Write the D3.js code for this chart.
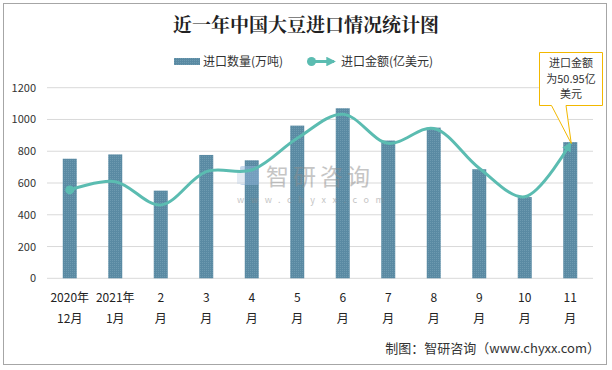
<!DOCTYPE html>
<html><head><meta charset="utf-8">
<script src="https://cdn.jsdelivr.net/npm/d3@7"></script>
<style>body{margin:0;background:#fff}svg{display:block}</style>
</head><body>
<svg id="c" width="612" height="370"></svg>
<script>
const categories = ["2020年|12月","2021年|1月","2|月","3|月","4|月","5|月","6|月","7|月","8|月","9|月","10|月","11|月"];
const quantity = [752.8, 780, 552, 776.6, 743, 961.3, 1070.6, 867.4, 948.6, 686.7, 511.4, 857.4];
const amount = [33.4, 36.5, 27.7, 40.3, 40.9, 52.9, 62.0, 51.0, 56.6, 41.6, 30.8, 50.95];
const yTicks = [0, 200, 400, 600, 800, 1000, 1200];

const svg = d3.select("#c");
const font = "'Microsoft YaHei','Noto Sans CJK SC',sans-serif";
const m = {l:47, r:593, t:87.7, b:278.3};

svg.append("rect").attr("x",3.5).attr("y",3.5).attr("width",603).attr("height",361)
  .attr("fill","#fff").attr("stroke","#a6a6a6").attr("stroke-width",1);

const defs = svg.append("defs");
const pat = defs.append("pattern").attr("id","dots").attr("width",2).attr("height",2).attr("patternUnits","userSpaceOnUse");
pat.append("rect").attr("width",2).attr("height",2).attr("fill","#5a8aa3");
pat.append("rect").attr("width",1).attr("height",1).attr("fill","#6d9ab0");
defs.append("marker").attr("id","arrow").attr("viewBox","0 0 10 10").attr("refX",8).attr("refY",5)
  .attr("markerWidth",3.2).attr("markerHeight",3.2).attr("orient","auto")
  .append("path").attr("d","M0,0L10,5L0,10z").attr("fill","#5bbcb1");

svg.append("text").attr("x",306).attr("y",32).attr("text-anchor","middle")
  .attr("font-family","'Noto Serif CJK SC','Noto Sans CJK SC',serif").attr("font-weight","bold")
  .attr("font-size",19).attr("fill","#222").text("近一年中国大豆进口情况统计图");

const x = d3.scaleBand().domain(categories).range([m.l, m.r]);
const y = d3.scaleLinear().domain([0,1200]).range([m.b, m.t]);
const y2 = d3.scaleLinear().domain([0,72]).range([m.b, m.t]);

// grid
svg.append("g").selectAll("line").data(yTicks).join("line")
  .attr("x1",m.l).attr("x2",m.r).attr("y1",d=>y(d)).attr("y2",d=>y(d))
  .attr("stroke","#d9d9d9").attr("stroke-width",1);

// y axis labels
const ya = svg.append("g").attr("transform",`translate(${m.l-8},0)`)
  .call(d3.axisLeft(y).tickValues(yTicks).tickFormat(d3.format("d")).tickSize(0).tickPadding(3));
ya.select(".domain").remove();
ya.selectAll("text").attr("font-family",font).attr("font-size",11).attr("fill","#333");

// bars
const bw = 14;
svg.append("g").selectAll("rect").data(quantity).join("rect")
  .attr("x",(d,i)=>x(categories[i])+x.bandwidth()/2-bw/2)
  .attr("y",d=>y(d)).attr("width",bw).attr("height",d=>m.b-y(d))
  .attr("fill","url(#dots)");

// watermark
const wm = svg.append("g").attr("opacity",0.5);
wm.append("rect").attr("x",240).attr("y",166).attr("width",19).attr("height",19).attr("rx",2).attr("fill","#8fb3d9");
wm.append("rect").attr("x",237).attr("y",172).attr("width",8).attr("height",12).attr("fill","#c9d7e8");
wm.append("text").attr("x",266).attr("y",185).attr("font-family",font).attr("font-size",23).attr("fill","#8c8c8c").attr("letter-spacing",4).text("智研咨询");
wm.append("text").attr("x",237).attr("y",203).attr("font-family",font).attr("font-size",9).attr("fill","#8c8c8c").attr("letter-spacing",6.6).text("www.chyxx.com");

// line
const pts = amount.map((d,i)=>[x(categories[i])+x.bandwidth()/2, y2(d)]);
const line = d3.line().curve(d3.curveCatmullRom.alpha(0.5));
svg.append("path").attr("d",line(pts)).attr("fill","none").attr("stroke","#5bbcb1")
  .attr("stroke-width",3).attr("marker-end","url(#arrow)");
svg.append("circle").attr("cx",pts[0][0]).attr("cy",pts[0][1]).attr("r",4.5).attr("fill","#5bbcb1");

// x labels
const xl = svg.append("g");
categories.forEach((c,i)=>{
  const parts = c.split("|");
  const t = xl.append("text").attr("x",x(c)+x.bandwidth()/2).attr("text-anchor","middle")
    .attr("font-family",font).attr("font-size",12).attr("fill","#222");
  t.append("tspan").attr("x",x(c)+x.bandwidth()/2).attr("y",302).text(parts[0]);
  t.append("tspan").attr("x",x(c)+x.bandwidth()/2).attr("y",323).text(parts[1]);
});

// legend
svg.append("rect").attr("x",174).attr("y",58).attr("width",26).attr("height",7).attr("fill","url(#dots)");
svg.append("text").attr("x",203).attr("y",65.5).attr("font-family",font).attr("font-size",12).attr("fill","#333").text("进口数量(万吨)");
svg.append("line").attr("x1",311).attr("x2",334).attr("y1",61.5).attr("y2",61.5).attr("stroke","#5bbcb1").attr("stroke-width",3).attr("marker-end","url(#arrow)");
svg.append("circle").attr("cx",311.5).attr("cy",61.5).attr("r",4.5).attr("fill","#5bbcb1");
svg.append("text").attr("x",341).attr("y",65.5).attr("font-family",font).attr("font-size",12).attr("fill","#333").text("进口金额(亿美元)");

// callout
const last = pts[pts.length-1];
svg.append("path").attr("d",`M539.5,52.5H602.5V105.5H566L${last[0]+1},${last[1]}L551.5,105.5H539.5Z`)
  .attr("fill","#fff").attr("stroke","#f2b800").attr("stroke-width",1);
const ct = svg.append("text").attr("text-anchor","middle").attr("font-family",font).attr("font-size",11).attr("fill","#333");
["进口金额","为50.95亿","美元"].forEach((s,i)=>ct.append("tspan").attr("x",571).attr("y",67+i*15.5).text(s));

// footer
svg.append("text").attr("x",600).attr("y",353).attr("text-anchor","end").attr("font-family",font)
  .attr("font-size",13).attr("fill","#333").text("制图：智研咨询（www.chyxx.com）");
</script>
</body></html>
